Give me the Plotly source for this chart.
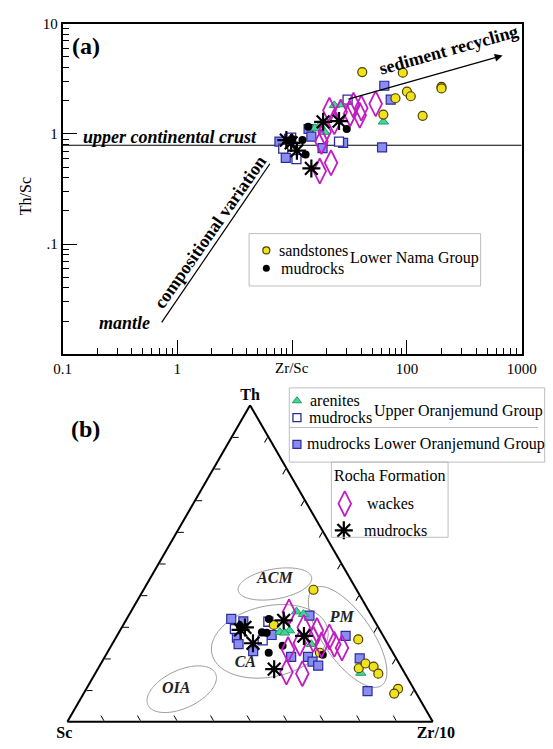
import numpy as np
import plotly.graph_objects as go

W, H = 553, 749
FONT = "Liberation Serif"

# ---------------- Panel (a): Zr/Sc vs Th/Sc ----------------
a_sand_x = [40.8, 92, 79.4, 100, 108, 200, 200, 137, 62.3]
a_sand_y = [3.65, 3.6, 2.11, 2.42, 2.2, 2.68, 2.59, 1.46, 1.5]
a_nama_mud_x = [29.9, 13.1, 13.8, 12.3, 10.0]
a_nama_mud_y = [1.11, 0.65, 1.16, 0.88, 0.90]
a_arenite_x = [23.3, 27.0, 17.4, 19.2, 15.8, 62.3]
a_arenite_y = [1.82, 1.85, 1.20, 1.04, 1.13, 1.29]
a_upper_mud_x = [8.36, 10.9, 30.4, 25.6, 9.8]
a_upper_mud_y = [0.735, 0.59, 2.05, 0.853, 0.927]
a_lower_mud_x = [63.5, 72.2, 7.75, 9.39, 8.8, 13.9, 14.7, 18.4, 27.8, 60.7]
a_lower_mud_y = [2.74, 2.05, 0.853, 0.902, 0.607, 1.11, 0.946, 0.745, 0.83, 0.755]
a_wacke_x = [53.4, 40.0, 34.2, 32.0, 26.5, 21.1, 23.3, 19.2, 18.0, 21.8, 17.4, 38.8]
a_wacke_y = [1.88, 1.72, 1.82, 1.53, 1.58, 1.64, 1.29, 1.05, 0.853, 0.547, 0.46, 1.48]
a_rocha_mud_x = [9.8, 11.0, 14.7, 18.6, 25.6, 8.9]
a_rocha_mud_y = [0.83, 0.705, 0.487, 1.29, 1.31, 0.88]
ucc_th_sc = 0.79
comp_var_x = [0.73, 6.4]
comp_var_y = [0.0195, 0.537]
recycling_start = (30, 2.05)
recycling_end = (681, 5.15)

x_major = [0.1, 1, 10, 100, 1000]
x_major_text = ["0.1", "1", "", "100", "1000"]
y_major = [0.01, 0.1, 1, 10]
y_major_text = ["", ".1", "1", "10"]

# ---------------- Panel (b): Th - Sc - Zr/10 ternary (%) ----------------
b_sand_th = [41.7, 26.0, 16.9, 18.4, 17.4, 15.2, 10.4, 8.9, 21.8, 30.6]
b_sand_sc = [11.8, 7.4, 11.8, 9.2, 7.5, 7.3, 4.3, 6.1, 20.0, 28.2]
b_sand_zr = [46.5, 66.6, 71.3, 72.4, 75.1, 77.5, 85.3, 85.0, 58.2, 41.2]

b_nama_mud_th = [32.5, 28.3, 21.8, 24.0, 21.2, 30.3, 28.1]
b_nama_mud_sc = [28.6, 32.6, 34.0, 29.1, 19.5, 37.6, 31.4]
b_nama_mud_zr = [38.9, 39.1, 44.2, 46.9, 59.3, 32.1, 40.5]

b_arenite_th = [34.8, 34.0, 28.3, 28.8, 28.1, 24.5, 15.4]
b_arenite_sc = [19.9, 18.4, 27.7, 24.8, 26.5, 21.0, 12.0]
b_arenite_zr = [45.3, 47.6, 44.0, 46.4, 45.4, 54.5, 72.6]

b_upper_mud_th = [29.3, 31.6, 25.7]
b_upper_mud_sc = [39.5, 29.2, 33.7]
b_upper_mud_zr = [31.2, 39.2, 40.6]

b_lower_mud_th = [32.5, 31.7, 26.6, 24.5, 22.3, 27.4, 33.5, 27.1, 20.5, 20.5, 19.0, 17.7, 20.0, 9.7]
b_lower_mud_sc = [38.9, 36.0, 40.3, 40.9, 38.0, 30.4, 17.0, 10.3, 28.5, 23.9, 23.4, 22.5, 10.0, 13.0]
b_lower_mud_zr = [28.6, 32.3, 33.1, 34.6, 39.7, 42.2, 49.5, 62.6, 51.0, 55.6, 57.6, 59.8, 70.0, 77.3]

b_wacke_th = [34.7, 29.8, 28.8, 26.8, 23.3, 24.8, 22.8, 24.3, 15.7, 15.2, 26.0, 24.5]
b_wacke_sc = [22.0, 20.4, 17.3, 14.9, 13.2, 24.0, 28.2, 18.3, 32.2, 28.1, 19.7, 14.7]
b_wacke_zr = [43.3, 49.8, 53.9, 58.3, 63.5, 51.2, 49.0, 57.4, 52.1, 56.7, 54.3, 60.8]

b_rocha_mud_th = [29.8, 24.8, 16.6, 32.0, 27.1, 29.0]
b_rocha_mud_sc = [36.5, 36.8, 35.1, 24.8, 21.7, 38.1]
b_rocha_mud_zr = [33.7, 38.4, 48.3, 43.2, 51.2, 32.9]

# tectonic fields (unit-triangle centre u,v ; semi-axes ; rotation deg)
field_names = ["ACM", "OIA", "CA", "PM"]
field_u = [0.568, 0.313, 0.554, 0.767]
field_v = [0.377, 0.089, 0.220, 0.232]
field_A = [0.102, 0.102, 0.162, 0.162]
field_B = [0.041, 0.052, 0.097, 0.066]
field_rot = [10, 25, 12, -55]
label_u = [0.568, 0.298, 0.487, 0.751]
label_v = [0.390, 0.089, 0.160, 0.285]

# colours / styles
C_SAND, C_SAND_LINE = "#f2e21e", "#4a4200"
C_GREEN, C_GREEN_LINE = "#3fd896", "#1f9c62"
C_SQ_FILL, C_SQ_LINE = "#8a8cf0", "#2a2c9c"
C_MAG = "#c21cc2"


def px(x):
    return x / W


def py(y):
    return 1 - y / H


def to_tern(u, v):
    a = v / (np.sqrt(3) / 2)
    c = u - a / 2
    b = 1 - a - c
    return a * 100, b * 100, c * 100


fig = go.Figure()

sty = dict(
    sand=dict(symbol="circle", size=9, color=C_SAND, line=dict(color=C_SAND_LINE, width=1.2)),
    nama=dict(symbol="circle", size=8, color="black", line=dict(color="black", width=0)),
    arenite=dict(symbol="triangle-up", size=9, color=C_GREEN, line=dict(color=C_GREEN_LINE, width=1)),
    upper=dict(symbol="square", size=9, color="white", line=dict(color=C_SQ_LINE, width=1.3)),
    lower=dict(symbol="square", size=9, color=C_SQ_FILL, line=dict(color=C_SQ_LINE, width=1.2)),
    wacke=dict(symbol="diamond-tall-open", size=18, color=C_MAG, line=dict(color=C_MAG, width=1.8)),
    rocha=dict(symbol="asterisk-open", size=15, color="black", line=dict(color="black", width=2.2)),
)

# ---- panel (a) reference lines ----
fig.add_trace(go.Scatter(x=[0.1, 1000], y=[ucc_th_sc, ucc_th_sc], mode="lines",
                         line=dict(color="black", width=1.2), xaxis="x", yaxis="y", showlegend=False))
fig.add_trace(go.Scatter(x=comp_var_x, y=comp_var_y, mode="lines",
                         line=dict(color="black", width=1.2), xaxis="x", yaxis="y", showlegend=False))

# ---- panel (a) data ----
for xs, ys, k in [(a_lower_mud_x, a_lower_mud_y, "lower"), (a_upper_mud_x, a_upper_mud_y, "upper"),
                  (a_arenite_x, a_arenite_y, "arenite"), (a_sand_x, a_sand_y, "sand"),
                  (a_nama_mud_x, a_nama_mud_y, "nama"), (a_wacke_x, a_wacke_y, "wacke"),
                  (a_rocha_mud_x, a_rocha_mud_y, "rocha")]:
    fig.add_trace(go.Scatter(x=xs, y=ys, mode="markers", marker=sty[k], xaxis="x", yaxis="y",
                             showlegend=False, cliponaxis=False))

# ---- panel (b) fields ----
t = np.linspace(0, 2 * np.pi, 120)
for u0, v0, A, B, r in zip(field_u, field_v, field_A, field_B, field_rot):
    th = np.radians(r)
    uu = u0 + A * np.cos(t) * np.cos(th) - B * np.sin(t) * np.sin(th)
    vv = v0 + A * np.cos(t) * np.sin(th) + B * np.sin(t) * np.cos(th)
    a, b, c = to_tern(uu, vv)
    fig.add_trace(go.Scatterternary(a=a, b=b, c=c, mode="lines", line=dict(color="#9a9a9a", width=1),
                                    subplot="ternary", showlegend=False, hoverinfo="skip"))
la, lb, lc = to_tern(np.array(label_u), np.array(label_v))
fig.add_trace(go.Scatterternary(a=la, b=lb, c=lc, mode="text", text=[f"<b><i>{n}</i></b>" for n in field_names],
                                textfont=dict(family=FONT, size=16, color="#222"), subplot="ternary",
                                showlegend=False))

# ---- panel (b) data ----
for aa, bb, cc, k in [(b_lower_mud_th, b_lower_mud_sc, b_lower_mud_zr, "lower"),
                      (b_upper_mud_th, b_upper_mud_sc, b_upper_mud_zr, "upper"),
                      (b_arenite_th, b_arenite_sc, b_arenite_zr, "arenite"),
                      (b_sand_th, b_sand_sc, b_sand_zr, "sand"),
                      (b_nama_mud_th, b_nama_mud_sc, b_nama_mud_zr, "nama"),
                      (b_wacke_th, b_wacke_sc, b_wacke_zr, "wacke"),
                      (b_rocha_mud_th, b_rocha_mud_sc, b_rocha_mud_zr, "rocha")]:
    fig.add_trace(go.Scatterternary(a=aa, b=bb, c=cc, mode="markers", marker=sty[k],
                                    subplot="ternary", showlegend=False))

# ---- legend swatches on a pixel overlay axis ----
sw = [("sand", 269, 245), ("nama", 269, 263), ("arenite", 301, 397), ("upper", 301, 414),
      ("lower", 301, 441), ("wacke", 351, 501), ("rocha", 350, 528)]
for k, x0, y0 in sw:
    m = dict(sty[k])
    if k in ("sand", "nama"):
        m = dict(m, size=7)
    if k in ("upper", "lower", "arenite"):
        m = dict(m, size=8)
    fig.add_trace(go.Scatter(x=[x0], y=[y0], mode="markers", marker=m, xaxis="x2", yaxis="y2",
                             showlegend=False, hoverinfo="skip"))

ann = []


def text(x, y, s, size=14, xanchor="center", angle=0, color="black"):
    ann.append(dict(x=px(x), y=py(y), xref="paper", yref="paper", text=s, showarrow=False,
                    xanchor=xanchor, yanchor="middle", textangle=angle,
                    font=dict(family=FONT, size=size, color=color)))


text(80, 38, "<b>(a)</b>", 24)
text(80, 426, "<b>(b)</b>", 24)
text(168, 130, "<b><i>upper continental crust</i></b>", 18)
text(121, 318, "<b><i>mantle</i></b>", 18)
text(210, 226, "<b>compositional variation</b>", 18, angle=-55)
text(459, 42, "<b>sediment recycling</b>", 18, angle=-15.5)
text(18, 190, "Th/Sc", 16, angle=-90)
text(296, 364, "Zr/Sc", 15)
text(280, 245, "sandstones", 16, "left")
text(282, 263, "mudrocks", 16, "left")
text(354, 253, "Lower Nama Group", 16, "left")
text(313, 397, "arenites", 16, "left")
text(311, 414, "mudrocks", 16, "left")
text(379, 407, "Upper Oranjemund Group", 16, "left")
text(309, 441, "mudrocks Lower Oranjemund Group", 16, "left")
text(398, 473, "Rocha Formation", 16)
text(372, 501, "wackes", 16, "left")
text(369, 528, "mudrocks", 16, "left")

# sediment recycling arrow
ann.append(dict(x=np.log10(recycling_end[0]), y=np.log10(recycling_end[1]), xref="x", yref="y",
                ax=np.log10(recycling_start[0]), ay=np.log10(recycling_start[1]), axref="x", ayref="y",
                text="", showarrow=True, arrowhead=2, arrowsize=1.2, arrowwidth=1.3, arrowcolor="black"))

shapes = []


def rect(x0, y0, x1, y1):
    shapes.append(dict(type="rect", xref="paper", yref="paper", x0=px(x0), x1=px(x1), y0=py(y1), y1=py(y0),
                       line=dict(color="#bdbdbd", width=1)))


rect(251, 228, 493, 281)
rect(293, 384, 560, 459)
shapes.append(dict(type="line", xref="paper", yref="paper", x0=px(293), x1=1, y0=py(424), y1=py(424),
                   line=dict(color="#bdbdbd", width=1)))
rect(337, 459, 459, 535)

minor_x = [m * 10 ** e for e in range(-1, 3) for m in range(2, 10)]
minor_y = [m * 10 ** e for e in range(-2, 1) for m in range(2, 10)]

axis_common = dict(type="log", showgrid=False, zeroline=False, showline=True, linecolor="black",
                   linewidth=1.5, mirror=True, ticks="inside", ticklen=15, tickwidth=1.3, tickcolor="black",
                   tickfont=dict(family=FONT, size=15, color="black"))

tern_ax = dict(showline=True, linecolor="black", linewidth=2, ticks="inside", ticklen=6, tickwidth=1.2,
               tickcolor="black", showgrid=False, showticklabels=False, tickmode="linear", tick0=0, dtick=10,
               min=0)
tfont = dict(family=FONT, size=16, color="black")

fig.update_layout(
    width=W, height=H, margin=dict(l=0, r=0, t=0, b=0),
    paper_bgcolor="white", plot_bgcolor="rgba(0,0,0,0)",
    xaxis=dict(axis_common, domain=[px(56), px(536)], range=[-1, 3], anchor="y",
               tickvals=x_major, ticktext=x_major_text,
               minor=dict(tickvals=minor_x, ticks="inside", ticklen=7, tickwidth=1.1, tickcolor="black")),
    yaxis=dict(axis_common, domain=[py(350), py(16)], range=[-2, 1], anchor="x",
               tickvals=y_major, ticktext=y_major_text,
               minor=dict(tickvals=minor_y, ticks="inside", ticklen=7, tickwidth=1.1, tickcolor="black")),
    xaxis2=dict(domain=[0, 1], range=[0, W], anchor="y2", visible=False, fixedrange=True),
    yaxis2=dict(domain=[0, 1], range=[H, 0], anchor="x2", visible=False, fixedrange=True),
    ternary=dict(
        domain=dict(x=[px(61), px(443)], y=[py(727), py(396)]),
        sum=100, bgcolor="rgba(0,0,0,0)",
        aaxis=dict(tern_ax, title=dict(text="<b>Th</b>", font=tfont)),
        baxis=dict(tern_ax, title=dict(text="<b>Sc</b>", font=tfont)),
        caxis=dict(tern_ax, title=dict(text="<b>Zr/10</b>", font=tfont)),
    ),
    annotations=ann, shapes=shapes, showlegend=False,
    font=dict(family=FONT, color="black"),
)

fig.write_html("out.html", config={"displayModeBar": False},
               post_script="document.body.style.margin='0';document.body.style.overflow='hidden';")
